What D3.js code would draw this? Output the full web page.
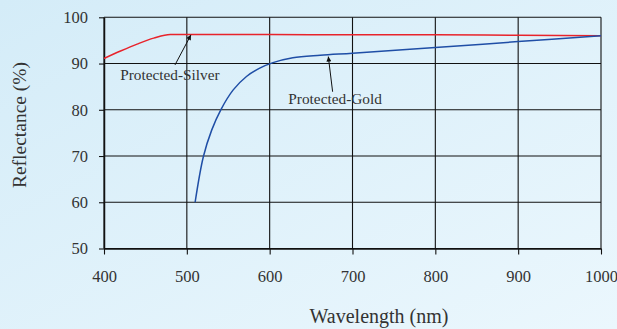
<!DOCTYPE html>
<html>
<head>
<meta charset="utf-8">
<script src="https://cdn.jsdelivr.net/npm/d3@7"></script>
<style>
  html, body { margin: 0; padding: 0; }
  body { width: 617px; height: 329px; overflow: hidden; }
  svg { display: block; font-family: "Liberation Serif", "DejaVu Serif", serif; }
</style>
</head>
<body>
<svg id="chart" width="617" height="329"></svg>
<script>
// Reflectance curves of protected mirror coatings
const xTicks = [400, 500, 600, 700, 800, 900, 1000];
const yTicks = [50, 60, 70, 80, 90, 100];

const silverWavelength = [400, 420, 440, 460, 480, 500, 600, 700, 800, 900, 1000];
const silverReflectance = [91.1, 92.7, 94.2, 95.5, 96.3, 96.3, 96.3, 96.2, 96.2, 96.1, 96.0];

const goldWavelength = [510, 520, 530, 541, 556, 572, 588, 604, 628, 661, 700, 800, 900, 1000];
const goldReflectance = [60.0, 69.9, 75.6, 80.0, 84.3, 87.2, 89.0, 90.2, 91.25, 91.8, 92.25, 93.45, 94.75, 96.0];

const seriesNames = ["Protected-Silver", "Protected-Gold"];

const svg = d3.select("#chart");
const W = 617, H = 329;
const plotLeft = 104, plotRight = 601, plotTop = 17.3, plotBottom = 248.5;

// background gradient
const defs = svg.append("defs");
const grad = defs.append("linearGradient").attr("id", "bg")
  .attr("x1", "0").attr("y1", "0").attr("x2", "1").attr("y2", "1");
grad.append("stop").attr("offset", "0%").attr("stop-color", "#d4ecf8");
grad.append("stop").attr("offset", "100%").attr("stop-color", "#ebf7fd");
svg.append("rect").attr("width", W).attr("height", H).attr("fill", "url(#bg)");

defs.append("marker").attr("id", "arrow")
  .attr("viewBox", "0 0 10 10").attr("refX", 10).attr("refY", 5)
  .attr("markerWidth", 9).attr("markerHeight", 5)
  .attr("markerUnits", "userSpaceOnUse")
  .attr("orient", "auto")
  .append("path").attr("d", "M0,0L10,5L0,10Z").attr("fill", "#111");

const x = d3.scaleLinear().domain([400, 1000]).range([plotLeft, plotRight]);
const y = d3.scaleLinear().domain([50, 100]).range([plotBottom, plotTop]);

// grid
const grid = svg.append("g").attr("stroke", "#111").attr("stroke-width", 1.1);
grid.selectAll("line.v").data(xTicks).join("line").attr("class", "v")
  .attr("x1", d => x(d)).attr("x2", d => x(d)).attr("y1", plotTop).attr("y2", plotBottom);
grid.selectAll("line.h").data(yTicks).join("line").attr("class", "h")
  .attr("x1", plotLeft).attr("x2", plotRight).attr("y1", d => y(d)).attr("y2", d => y(d));

// axes
const xAxis = svg.append("g").attr("transform", `translate(0,${plotBottom})`)
  .call(d3.axisBottom(x).tickValues(xTicks).tickSize(6).tickSizeOuter(0).tickFormat(d3.format("d")));
xAxis.select(".domain").attr("stroke", "#111").attr("stroke-width", 1.5);
xAxis.selectAll(".tick line").attr("stroke", "#111").attr("stroke-width", 1.1);
xAxis.selectAll(".tick text").attr("y", 22).attr("font-size", 16.5).attr("fill", "#333")
  .attr("font-family", "Liberation Serif, serif");

const yAxis = svg.append("g").attr("transform", `translate(${plotLeft},0)`)
  .call(d3.axisLeft(y).tickValues(yTicks).tickSize(5).tickSizeOuter(0).tickPadding(11));
yAxis.select(".domain").attr("stroke", "#111").attr("stroke-width", 1.5);
yAxis.selectAll(".tick line").attr("stroke", "#111").attr("stroke-width", 1.1);
yAxis.selectAll(".tick text").attr("font-size", 16.5).attr("fill", "#333")
  .attr("font-family", "Liberation Serif, serif");

// curves
const line = d3.line().x(d => x(d[0])).y(d => y(d[1])).curve(d3.curveCatmullRom.alpha(0.5));
svg.append("path").datum(d3.zip(silverWavelength, silverReflectance))
  .attr("d", line.curve(d3.curveMonotoneX)).attr("fill", "none").attr("stroke", "#e8232b").attr("stroke-width", 1.5);
svg.append("path").datum(d3.zip(goldWavelength, goldReflectance))
  .attr("d", line.curve(d3.curveCatmullRom.alpha(0.5))).attr("fill", "none").attr("stroke", "#1f4ea6").attr("stroke-width", 1.5);

// annotations
const notes = [
  { name: seriesNames[0], label: [479.5, 86.4], tail: [485.7, 89.7], tip: [505, 96.2] },
  { name: seriesNames[1], label: [679, 81.25], tail: [676, 83.9], tip: [670.8, 91.5] }
];
const ann = svg.append("g");
notes.forEach(n => {
  ann.append("line")
    .attr("x1", x(n.tail[0])).attr("y1", y(n.tail[1]))
    .attr("x2", x(n.tip[0])).attr("y2", y(n.tip[1]))
    .attr("stroke", "#111").attr("stroke-width", 1).attr("marker-end", "url(#arrow)");
  ann.append("text").attr("x", x(n.label[0])).attr("y", y(n.label[1]))
    .attr("text-anchor", "middle").attr("font-size", 15.3).attr("fill", "#333")
    .text(n.name);
});

// axis titles
svg.append("text").attr("x", 379).attr("y", 323)
  .attr("text-anchor", "middle").attr("font-size", 20).attr("fill", "#333")
  .text("Wavelength (nm)");
svg.append("text").attr("transform", "translate(26,125) rotate(-90)")
  .attr("text-anchor", "middle").attr("font-size", 19.5).attr("fill", "#333")
  .text("Reflectance (%)");
</script>
</body>
</html>
